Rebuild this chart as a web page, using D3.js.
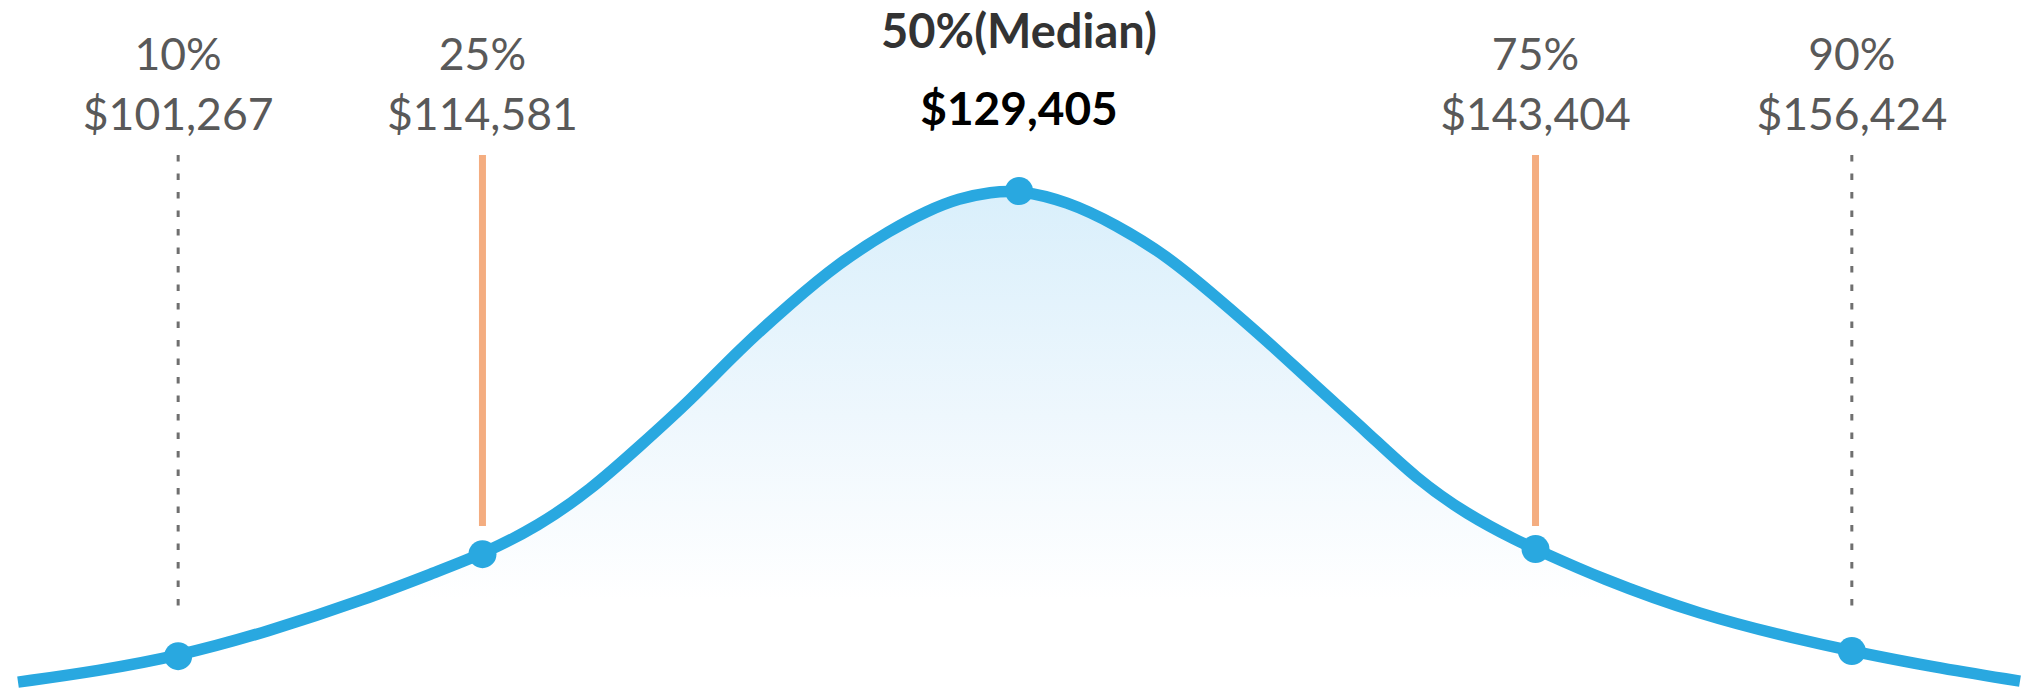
<!DOCTYPE html>
<html>
<head>
<meta charset="utf-8">
<script src="https://cdn.jsdelivr.net/npm/d3@7"></script>
<style>
  html, body { margin: 0; padding: 0; background: #ffffff; }
  svg { display: block; }
</style>
</head>
<body>
<svg id="chart" width="2025" height="691"></svg>
<script>
// Salary distribution curve: horizontal position in spread units around the median,
// vertical value as relative frequency (peak = 1).
const curveX = [-2.50, -2.30, -2.10, -1.88, -1.63, -1.45, -1.34, -1.20, -1.07, -0.95,
                -0.82, -0.70, -0.57, -0.45, -0.32, -0.23, -0.15, -0.07, 0.00, 0.12,
                0.24, 0.37, 0.49, 0.62, 0.74, 0.87, 0.99, 1.12, 1.25, 1.29,
                1.45, 1.70, 1.95, 2.08, 2.28, 2.50];
const curveY = [0.035, 0.057, 0.086, 0.133, 0.198, 0.253, 0.286, 0.341, 0.412, 0.496,
                0.588, 0.686, 0.778, 0.857, 0.922, 0.959, 0.984, 0.996, 1.000, 0.978,
                0.933, 0.871, 0.792, 0.704, 0.616, 0.525, 0.435, 0.363, 0.310, 0.296,
                0.239, 0.167, 0.118, 0.096, 0.065, 0.037];

// Percentile markers
const percentLabels = ["10%", "25%", "50%(Median)", "75%", "90%"];
const salaries      = [101267, 114581, 129405, 143404, 156424];
const markerX       = [-2.10, -1.34, 0.00, 1.29, 2.08];
const markerY       = [0.086, 0.286, 0.998, 0.296, 0.096];
const guideStyle    = ["dashed", "solid", "none", "solid", "dashed"];

const W = 2025, H = 691;
const svg = d3.select("#chart");

const x = d3.scaleLinear().domain([-2.5, 2.5]).range([18, 2020]);
const y = d3.scaleLinear().domain([0, 1]).range([700, 190]);

const fmt = d3.format("$,");

const curveData = curveX.map((v, i) => ({ x: v, y: curveY[i] }));
const markers = percentLabels.map((p, i) => ({
  label: p, salary: salaries[i], x: markerX[i], y: markerY[i], guide: guideStyle[i]
}));

// Soft blue fill under the curve
const defs = svg.append("defs");
const grad = defs.append("linearGradient")
  .attr("id", "areaFill")
  .attr("gradientUnits", "userSpaceOnUse")
  .attr("x1", 0).attr("x2", 0)
  .attr("y1", y(1)).attr("y2", 600);
grad.append("stop").attr("offset", "0%").attr("stop-color", "#d9effb");
grad.append("stop").attr("offset", "55%").attr("stop-color", "#eef7fd");
grad.append("stop").attr("offset", "100%").attr("stop-color", "#ffffff");

const area = d3.area()
  .x(d => x(d.x))
  .y0(H)
  .y1(d => y(d.y))
  .curve(d3.curveBasis);

svg.append("path")
  .datum(curveData)
  .attr("d", area)
  .attr("fill", "url(#areaFill)");

// Guide lines from the labels down toward the curve
const guideTop = 155;
svg.selectAll("line.guide")
  .data(markers.filter(d => d.guide !== "none"))
  .join("line")
  .attr("class", "guide")
  .attr("x1", d => x(d.x))
  .attr("x2", d => x(d.x))
  .attr("y1", guideTop)
  .attr("y2", d => d.guide === "solid" ? 526 : 606)
  .attr("stroke", d => d.guide === "solid" ? "#f4ad80" : "#6f6f6f")
  .attr("stroke-width", d => d.guide === "solid" ? 7 : 3)
  .attr("stroke-dasharray", d => d.guide === "dashed" ? "6.5,12" : null);

// Distribution curve
const line = d3.line()
  .x(d => x(d.x))
  .y(d => y(d.y))
  .curve(d3.curveBasis);

svg.append("path")
  .datum(curveData)
  .attr("d", line)
  .attr("fill", "none")
  .attr("stroke", "#29a8e0")
  .attr("stroke-width", 11.5)
  .attr("stroke-linecap", "butt");

// Percentile dots
svg.selectAll("circle.marker")
  .data(markers)
  .join("circle")
  .attr("class", "marker")
  .attr("cx", d => x(d.x))
  .attr("cy", d => y(d.y))
  .attr("r", 14)
  .attr("fill", "#29a8e0");

// Labels
const isMedian = d => d.x === 0;

svg.selectAll("text.pct")
  .data(markers)
  .join("text")
  .attr("class", "pct")
  .attr("x", d => x(d.x))
  .attr("y", d => isMedian(d) ? 48 : 70)
  .attr("text-anchor", "middle")
  .attr("font-family", "Lato, 'Open Sans', sans-serif")
  .attr("font-weight", d => isMedian(d) ? 700 : 400)
  .attr("font-size", d => isMedian(d) ? 47 : 44.5)
  .attr("fill", d => isMedian(d) ? "#333333" : "#595959")
  .text(d => d.label);

svg.selectAll("text.val")
  .data(markers)
  .join("text")
  .attr("class", "val")
  .attr("x", d => x(d.x))
  .attr("y", d => isMedian(d) ? 125 : 130)
  .attr("text-anchor", "middle")
  .attr("font-family", "Lato, 'Open Sans', sans-serif")
  .attr("font-weight", d => isMedian(d) ? 700 : 400)
  .attr("font-size", d => isMedian(d) ? 46 : 44.5)
  .attr("fill", d => isMedian(d) ? "#000000" : "#595959")
  .text(d => fmt(d.salary));
</script>
</body>
</html>
